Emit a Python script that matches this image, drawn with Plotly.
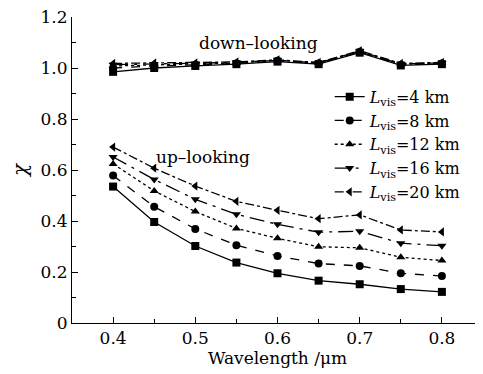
import plotly.graph_objects as go

wavelength = [0.40, 0.45, 0.50, 0.55, 0.60, 0.65, 0.70, 0.75, 0.80]

series_names = ["4 km", "8 km", "12 km", "16 km", "20 km"]

up_4 = [0.535, 0.396, 0.302, 0.237, 0.195, 0.166, 0.152, 0.133, 0.122]
up_8 = [0.578, 0.456, 0.369, 0.305, 0.263, 0.233, 0.224, 0.195, 0.184]
up_12 = [0.624, 0.518, 0.437, 0.371, 0.332, 0.299, 0.295, 0.258, 0.245]
up_16 = [0.651, 0.563, 0.485, 0.426, 0.387, 0.356, 0.360, 0.313, 0.303]
up_20 = [0.690, 0.607, 0.537, 0.477, 0.442, 0.409, 0.424, 0.365, 0.357]

down_4 = [0.985, 1.000, 1.008, 1.015, 1.025, 1.015, 1.060, 1.010, 1.015]
down_8 = [1.000, 1.008, 1.012, 1.018, 1.028, 1.018, 1.063, 1.012, 1.018]
down_12 = [1.008, 1.012, 1.015, 1.020, 1.030, 1.020, 1.065, 1.015, 1.020]
down_16 = [1.013, 1.016, 1.018, 1.022, 1.030, 1.020, 1.066, 1.016, 1.020]
down_20 = [1.018, 1.020, 1.020, 1.024, 1.032, 1.022, 1.068, 1.018, 1.022]

up_all = [up_4, up_8, up_12, up_16, up_20]
down_all = [down_4, down_8, down_12, down_16, down_20]
symbols = ["square", "circle", "triangle-up", "triangle-down", "triangle-left"]
dashes = ["solid", "dash", "dot", "longdashdot", "dashdot"]

FONT = "DejaVu Serif"

fig = go.Figure()
for i in range(5):
    name = "<i>L</i><sub>vis</sub>=" + series_names[i]
    for j, data in enumerate([down_all[i], up_all[i]]):
        fig.add_trace(go.Scatter(
            x=wavelength, y=data, mode="lines+markers",
            name=name, showlegend=(j == 0), legendgroup=series_names[i],
            line=dict(color="black", width=1.3, dash=dashes[i]),
            marker=dict(symbol=symbols[i], size=8, color="black"),
        ))

fig.add_annotation(x=0.577, y=1.098, xref="x", yref="y", text="down\u2013looking",
                   showarrow=False, font=dict(family=FONT, size=17, color="black"))
fig.add_annotation(x=0.509, y=0.651, xref="x", yref="y", text="up\u2013looking",
                   showarrow=False, font=dict(family=FONT, size=17, color="black"))

# page body has an 8px default margin, so the figure is sized to fill the rest
fig.update_layout(
    width=475, height=366,
    margin=dict(l=64, r=0, t=9, b=51, autoexpand=False),
    paper_bgcolor="white", plot_bgcolor="white",
    font=dict(family=FONT, size=17, color="black"),
    legend=dict(x=0.627, y=0.795, xanchor="left", yanchor="top",
                bgcolor="rgba(0,0,0,0)", font=dict(family=FONT, size=16),
                itemwidth=30, tracegroupgap=0),
    xaxis=dict(range=[0.35, 0.85], tickvals=[0.4, 0.5, 0.6, 0.7, 0.8],
               ticktext=["0.4", "0.5", "0.6", "0.7", "0.8"], automargin=False,
               ticklabeloverflow="allow",
               showgrid=False, zeroline=False, showline=True, linecolor="black", linewidth=1,
               ticks="inside", ticklen=6, tickcolor="black",
               minor=dict(dtick=0.05, ticks="inside", ticklen=4, tickcolor="black", tick0=0.4),
               title=dict(text="Wavelength /\u03bcm", standoff=2, font=dict(size=17))),
    yaxis=dict(range=[0, 1.2], tickvals=[0, 0.2, 0.4, 0.6, 0.8, 1.0, 1.2],
               ticktext=["0", "0.2", "0.4", "0.6", "0.8", "1.0", "1.2"], automargin=False,
               ticklabeloverflow="allow",
               showgrid=False, zeroline=False, showline=True, linecolor="black", linewidth=1,
               ticks="inside", ticklen=6, tickcolor="black",
               minor=dict(dtick=0.1, ticks="inside", ticklen=4, tickcolor="black", tick0=0),
               title=dict(text="<i>\u03c7</i>", standoff=13, font=dict(size=20))),
)

fig.write_html("out.html")
